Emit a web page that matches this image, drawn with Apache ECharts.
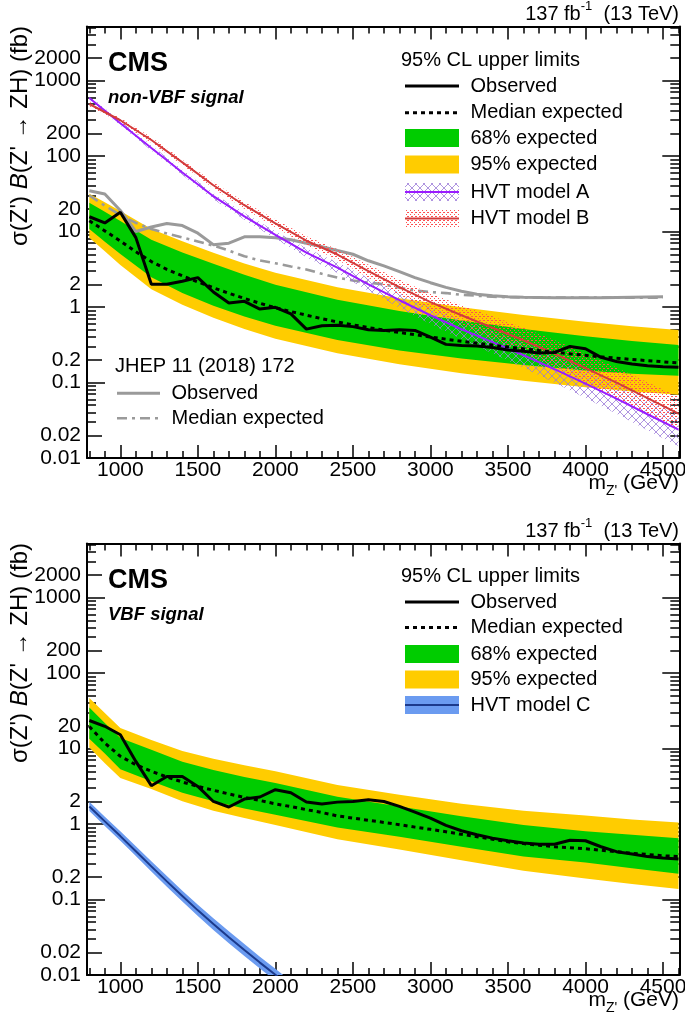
<!DOCTYPE html>
<html><head><meta charset="utf-8">
<script src="https://cdn.jsdelivr.net/npm/echarts@6/dist/echarts.min.js"></script>
<style>html,body{margin:0;padding:0;background:#fff}#c{width:685px;height:1029px}</style>
</head><body><div id="c"></div>
<script>
// ---------------- data ----------------
const mass = [800,900,1000,1100,1200,1300,1400,1500,1600,1700,1800,1900,2000,2100,2200,2300,2400,2500,2600,2700,2800,2900,3000,3100,3200,3300,3400,3500,3600,3700,3800,3900,4000,4100,4200,4300,4400,4500,4600];
const bandMass = [800,900,1000,1200,1400,1600,1800,2000,2400,2800,3200,3600,4000,4300,4600];
const hvtMass = [800,1000,1200,1400,1600,1800,2000,2200,2400,2600,2800,3000,3200,3400,3600,3800,4000,4200,4400,4600];
const oldMass = [800,900,1000,1100,1200,1300,1400,1500,1600,1700,1800,1900,2000,2100,2200,2300,2400,2500,2600,2700,2800,2900,3000,3100,3200,3300,3400,3500,3600,3700,3800,3900,4000,4100,4200,4300,4400,4500];
const hvtCMass = [800,900,1000,1100,1200,1300,1400,1500,1600,1700,1800,1900,2000,2100,2200];

// non-VBF panel
const obsTop = [15.7,13.0,18.0,8.3,2.0,2.0,2.2,2.45,1.58,1.13,1.19,0.94,0.99,0.81,0.51,0.565,0.575,0.55,0.50,0.49,0.50,0.49,0.40,0.32,0.31,0.305,0.29,0.27,0.26,0.246,0.25,0.30,0.28,0.215,0.19,0.176,0.167,0.162,0.159];
const expTop = [13.9,10.2,7.5,5.4,4.0,3.15,2.6,2.15,1.8,1.52,1.3,1.12,0.98,0.87,0.78,0.70,0.635,0.58,0.535,0.495,0.46,0.43,0.40,0.375,0.352,0.332,0.313,0.296,0.28,0.265,0.252,0.24,0.229,0.219,0.21,0.202,0.195,0.188,0.182];
const up95Top = [31.7,24.4,18.75,10.8,7.41,5.24,3.78,2.85,1.83,1.31,0.993,0.784,0.637,0.558,0.498];
const up68Top = [24.0,18.3,13.8,7.8,5.28,3.74,2.67,1.98,1.25,0.888,0.662,0.512,0.41,0.356,0.315];
const dn68Top = [10.8,7.34,5.05,2.48,1.53,1.04,0.75,0.565,0.366,0.265,0.208,0.171,0.144,0.131,0.1225];
const dn95Top = [8.3,5.5,3.6,1.72,1.07,0.72,0.51,0.38,0.244,0.175,0.133,0.1056,0.0863,0.0762,0.0686];
const oldObs = [34.7,31.4,19,10.0,11.5,12.8,12.0,9.5,6.7,7.0,8.5,8.5,8.3,7.8,7.0,6.3,5.6,5.0,4.1,3.5,2.95,2.45,2.1,1.82,1.62,1.48,1.41,1.37,1.35,1.34,1.33,1.33,1.33,1.33,1.34,1.35,1.36,1.37];
const oldExp = [30,22,16.5,13,10.8,9.4,8.35,7.4,6.5,5.6,4.7,4.15,3.8,3.45,3.15,2.75,2.45,2.25,2.1,2.0,1.8,1.65,1.58,1.53,1.45,1.41,1.37,1.35,1.34,1.33,1.33,1.33,1.33,1.33,1.33,1.33,1.33,1.33];
const hvtA = [586,272,128,60.6,29.4,15.9,9.02,5.24,3.33,2.00,1.23,0.778,0.508,0.342,0.230,0.150,0.0964,0.061,0.038,0.0237];
const hvtAHi = [628,292,139,65.7,32.2,17.6,10.1,6.02,3.91,2.43,1.55,1.01,0.685,0.483,0.336,0.227,0.149,0.0967,0.0616,0.0393];
const hvtALo = [547,254,118,55.9,26.8,14.3,8.04,4.56,2.83,1.64,0.977,0.597,0.377,0.242,0.157,0.099,0.0622,0.0385,0.0234,0.0143];
const hvtB = [489,298,163,82.3,41.0,22.3,12.8,7.55,4.96,2.98,1.83,1.16,0.778,0.532,0.363,0.241,0.155,0.0994,0.062,0.0386];
const hvtBHi = [524,319,177,89.2,44.9,24.7,14.4,8.67,5.83,3.62,2.30,1.51,1.05,0.752,0.531,0.365,0.240,0.158,0.1006,0.0641];
const hvtBLo = [456,278,150,75.9,37.4,20.1,11.4,6.58,4.22,2.45,1.45,0.89,0.577,0.377,0.248,0.159,0.100,0.0627,0.0382,0.0233];

// VBF panel
const obsBot = [23.5,19.7,15.2,6.75,3.22,4.27,4.27,3.15,1.99,1.68,2.14,2.28,2.85,2.6,1.96,1.84,1.95,1.99,2.1,1.99,1.71,1.44,1.2,0.96,0.815,0.72,0.65,0.6,0.56,0.54,0.54,0.61,0.6,0.5,0.43,0.40,0.37,0.355,0.344];
const expBot = [19.6,11.8,7.9,6.1,5.0,4.2,3.6,3.15,2.8,2.5,2.25,2.05,1.85,1.7,1.55,1.42,1.28,1.2,1.12,1.05,0.98,0.91,0.85,0.79,0.73,0.68,0.63,0.58,0.55,0.525,0.5,0.485,0.47,0.45,0.43,0.41,0.395,0.38,0.37];
const up95Bot = [46.7,29.5,18.7,13,9.3,7.3,6.0,5.0,3.3,2.45,1.85,1.5,1.3,1.15,1.05];
const up68Bot = [35,21.8,13.8,9.6,6.7,5.2,4.2,3.5,2.3,1.7,1.27,0.97,0.8,0.72,0.65];
const dn68Bot = [13.5,8.6,5.3,3.7,2.6,2.0,1.6,1.33,0.9,0.68,0.5,0.37,0.31,0.26,0.22];
const dn95Bot = [10.3,6.4,4.06,2.9,2.0,1.5,1.2,0.97,0.63,0.46,0.33,0.24,0.19,0.16,0.138];
const hvtC = [1.71,1.084,0.692,0.436,0.275,0.174,0.111,0.0718,0.0473,0.0316,0.0214,0.0146,0.01005,0.0069,0.0048];
const hvtCHi = [1.97,1.25,0.80,0.506,0.322,0.205,0.131,0.0855,0.0566,0.0379,0.0257,0.0175,0.0121,0.0083,0.0058];
const hvtCLo = [1.49,0.94,0.60,0.376,0.235,0.148,0.0941,0.0603,0.0395,0.0263,0.0178,0.0122,0.0084,0.0058,0.0040];

// axes
const xLabelVals = [1000,1500,2000,2500,3000,3500,4000,4500];
const yLabelVals = [0.01,0.02,0.1,0.2,1,2,10,20,100,200,1000,2000];
const yLabelText = ['0.01','0.02','0.1','0.2','1','2','10','20','100','200','1000','2000'];
const X_MIN = 785, X_MAX = 4605, Y_MIN = 0.01, Y_MAX = 5200;

// ---------------- styling ----------------
const FONT = '"Liberation Sans", Arial, Helvetica, sans-serif';
const C_GREEN = '#00cc00', C_YELLOW = '#ffcc00', C_GRAY = '#9a9a9a';
const C_PURPLE = '#9a1cff', C_RED = '#d23c3c', C_BLUE = '#6b9bf0', C_NAVY = '#1c3a8c';

function hatchPattern() {
  const c = document.createElement('canvas'); c.width = 8; c.height = 8;
  const g = c.getContext('2d'); g.strokeStyle = '#9a7ad8'; g.lineWidth = 0.8;
  g.beginPath(); g.moveTo(0,0); g.lineTo(8,8); g.moveTo(8,0); g.lineTo(0,8); g.stroke();
  return {image: c, repeat: 'repeat'};
}
function dotPattern() {
  const c = document.createElement('canvas'); c.width = 4; c.height = 4;
  const g = c.getContext('2d'); g.fillStyle = '#ff5050';
  g.fillRect(0,0,1,1); g.fillRect(2,2,1,1); g.fillRect(3,0,1,1);
  return {image: c, repeat: 'repeat'};
}
const PAT_A = hatchPattern(), PAT_B = dotPattern();

const xMinor = []; for (let m = 800; m <= 4600; m += 100) if (m % 500) xMinor.push(m);
const yDec = [], yTwo = [], yOther = [], yAllMinor = [];
for (let n = -2; n <= 3; n++) for (let k = 1; k <= 9; k++) {
  const v = Number((k * Math.pow(10, n)).toPrecision(3));
  if (v > Y_MAX) continue;
  if (k === 1) yDec.push(v); else { yAllMinor.push(v); if (k === 2) yTwo.push(v); else yOther.push(v); }
}

const tickLine = {color:'#000', width:1.5};
function xAxes(g) {
  const c = {type:'value', gridIndex:g, min:X_MIN, max:X_MAX, splitLine:{show:false}, axisPointer:{show:false}};
  return [
    {...c, position:'bottom', axisLine:{show:true, lineStyle:{color:'#000', width:2}},
      axisTick:{show:true, inside:true, length:13, customValues:xLabelVals, lineStyle:tickLine},
      axisLabel:{show:true, customValues:xLabelVals, color:'#000', fontSize:21, fontFamily:FONT, margin:2, formatter: v => String(Math.round(v))}},
    {...c, position:'bottom', axisLine:{show:false}, axisTick:{show:true, inside:true, length:7, customValues:xMinor, lineStyle:tickLine}, axisLabel:{show:false}},
    {...c, position:'top', axisLine:{show:true, lineStyle:{color:'#000', width:2}}, axisTick:{show:true, inside:true, length:13, customValues:xLabelVals, lineStyle:tickLine}, axisLabel:{show:false}},
    {...c, position:'top', axisLine:{show:false}, axisTick:{show:true, inside:true, length:7, customValues:xMinor, lineStyle:tickLine}, axisLabel:{show:false}}
  ];
}
function yAxes(g) {
  const c = {type:'log', logBase:10, gridIndex:g, min:Y_MIN, max:Y_MAX, splitLine:{show:false}, axisPointer:{show:false}};
  return [
    {...c, position:'left', axisLine:{show:true, lineStyle:{color:'#000', width:2}},
      axisTick:{show:true, inside:true, length:18, customValues:yDec, lineStyle:tickLine},
      axisLabel:{show:true, customValues:yLabelVals, color:'#000', fontSize:21, fontFamily:FONT, margin:6,
        formatter: v => { for (let i = 0; i < yLabelVals.length; i++) if (Math.abs(v / yLabelVals[i] - 1) < 1e-6) return yLabelText[i]; return ''; }}},
    {...c, position:'left', axisLine:{show:false}, axisTick:{show:true, inside:true, length:15, customValues:yTwo, lineStyle:tickLine}, axisLabel:{show:false}},
    {...c, position:'left', axisLine:{show:false}, axisTick:{show:true, inside:true, length:9, customValues:yOther, lineStyle:tickLine}, axisLabel:{show:false}},
    {...c, position:'right', axisLine:{show:true, lineStyle:{color:'#000', width:2}}, axisTick:{show:true, inside:true, length:17, customValues:yDec, lineStyle:tickLine}, axisLabel:{show:false}},
    {...c, position:'right', axisLine:{show:false}, axisTick:{show:true, inside:true, length:9, customValues:yAllMinor, lineStyle:tickLine}, axisLabel:{show:false}}
  ];
}

function pairs(xs, ys) { return xs.map((x, i) => [x, ys[i]]); }
function band(gi, xs, lo, hi, fill, z) {
  return {type:'custom', xAxisIndex:gi*4, yAxisIndex:gi*5, clip:true, silent:true, z:z,
    data:[[xs[0], lo[0]]],
    renderItem: (params, api) => {
      const pts = [];
      for (let i = 0; i < xs.length; i++) pts.push(api.coord([xs[i], hi[i]]));
      for (let i = xs.length - 1; i >= 0; i--) pts.push(api.coord([xs[i], lo[i]]));
      return {type:'polygon', shape:{points:pts}, style:{fill:fill, stroke:null}};
    }};
}
function line(gi, xs, ys, color, width, type, z) {
  return {type:'line', xAxisIndex:gi*4, yAxisIndex:gi*5, data:pairs(xs, ys), showSymbol:false, symbol:'none',
    clip:true, silent:true, z:z, lineStyle:{color:color, width:width, type:type || 'solid', cap:'butt'}};
}

const series = [
  band(0, bandMass, dn95Top, up95Top, C_YELLOW, 1),
  band(0, bandMass, dn68Top, up68Top, C_GREEN, 2),
  line(0, oldMass, oldExp, C_GRAY, 2.6, [10,5,3,5], 3),
  line(0, oldMass, oldObs, C_GRAY, 3, 'solid', 3),
  band(0, hvtMass, hvtALo, hvtAHi, PAT_A, 4),
  band(0, hvtMass, hvtBLo, hvtBHi, PAT_B, 4),
  line(0, hvtMass, hvtA, C_PURPLE, 2, 'solid', 5),
  line(0, hvtMass, hvtB, C_RED, 2, 'solid', 5),
  line(0, mass, expTop, '#000', 3, [4,4], 6),
  line(0, mass, obsTop, '#000', 3, 'solid', 7),

  band(1, bandMass, dn95Bot, up95Bot, C_YELLOW, 1),
  band(1, bandMass, dn68Bot, up68Bot, C_GREEN, 2),
  band(1, hvtCMass, hvtCLo, hvtCHi, C_BLUE, 4),
  line(1, hvtCMass, hvtC, C_NAVY, 2, 'solid', 5),
  line(1, mass, expBot, '#000', 3, [4,4], 6),
  line(1, mass, obsBot, '#000', 3, 'solid', 7)
];

// ---------------- decorations (text / legend) ----------------
const G = [];
function txt(x, y, text, size, opt) {
  G.push({type:'text', x:x, y:y, silent:true, z:100, rotation:(opt && opt.rot) || 0,
    style:Object.assign({text:text, fontSize:size, fontFamily:FONT, fill:'#000', align:'left', verticalAlign:'middle'}, (opt && opt.style) || {})});
}
function seg(x1, y1, x2, y2, color, w, dash) {
  G.push({type:'line', silent:true, z:100, shape:{x1:x1, y1:y1, x2:x2, y2:y2}, style:{stroke:color, lineWidth:w, lineDash:dash || null}});
}
function box(x, y, w, h, fill) {
  G.push({type:'rect', silent:true, z:100, shape:{x:x, y:y, width:w, height:h}, style:{fill:fill}});
}
function panelDeco(dy, isTop) {
  txt(679, 14 + dy, "137 fb{sup|-1}  (13 TeV)", 20, {style:{align:'right', rich:{sup:{fontSize:13, fontFamily:FONT, verticalAlign:'top', lineHeight:28}}}});
  txt(108, 64 + dy, 'CMS', 27, {style:{fontWeight:'bold'}});
  txt(108, 98 + dy, isTop ? 'non-VBF signal' : 'VBF signal', 18.5, {style:{fontWeight:'bold', fontStyle:'italic'}});
  txt(20, 26 + dy, "σ(Z') {it|B}(Z' → ZH) (fb)", 24, {rot:Math.PI/2, style:{align:'right', rich:{it:{fontStyle:'italic', fontSize:24, fontFamily:FONT}}}});
  txt(679, 483 + dy, "m{sub|Z'} (GeV)", 21, {style:{align:'right', rich:{sub:{fontSize:14, fontFamily:FONT, verticalAlign:'bottom', lineHeight:30}}}});
  // legend
  const rows = isTop ? [86, 112.7, 138, 164.5, 192, 218.5] : [85, 110.5, 137, 162.5, 188];
  const X1 = 405, X2 = 459, TX = 470.5;
  txt(401, (isTop ? 60 : 59.7) + dy, '95% CL upper limits', 20);
  seg(X1, rows[0] + dy, X2, rows[0] + dy, '#000', 3);
  txt(TX, rows[0] + dy, 'Observed', 20);
  seg(X1, rows[1] + dy, X2, rows[1] + dy, '#000', 3, [4,4]);
  txt(TX, rows[1] + dy, 'Median expected', 20);
  box(X1, rows[2] - 9 + dy, X2 - X1, 18, C_GREEN);
  txt(TX, rows[2] + dy, '68% expected', 20);
  box(X1, rows[3] - 9 + dy, X2 - X1, 18, C_YELLOW);
  txt(TX, rows[3] + dy, '95% expected', 20);
  if (isTop) {
    box(X1, rows[4] - 9 + dy, X2 - X1, 18, PAT_A);
    seg(X1, rows[4] + dy, X2, rows[4] + dy, C_PURPLE, 2);
    txt(TX, rows[4] + dy, 'HVT model A', 20);
    box(X1, rows[5] - 9 + dy, X2 - X1, 18, PAT_B);
    seg(X1, rows[5] + dy, X2, rows[5] + dy, C_RED, 2);
    txt(TX, rows[5] + dy, 'HVT model B', 20);
    txt(115, 366, 'JHEP 11 (2018) 172', 20);
    seg(117, 393.3, 160, 393.3, C_GRAY, 3);
    txt(171.5, 393.3, 'Observed', 20);
    seg(117, 418.3, 160, 418.3, C_GRAY, 2.6, [10,5,3,5]);
    txt(171.5, 418.3, 'Median expected', 20);
  } else {
    box(X1, rows[4] - 9 + dy, X2 - X1, 18, C_BLUE);
    seg(X1, rows[4] + dy, X2, rows[4] + dy, C_NAVY, 2);
    txt(TX, rows[4] + dy, 'HVT model C', 20);
  }
}
panelDeco(0, true);
panelDeco(517, false);

const chart = echarts.init(document.getElementById('c'), null, {renderer:'canvas'});
chart.setOption({
  animation:false,
  backgroundColor:'#fff',
  textStyle:{fontFamily:FONT},
  grid:[
    {left:87, top:26.5, width:592.3, height:431.5, show:false, containLabel:false, outerBoundsMode:'none'},
    {left:87, top:543.5, width:592.3, height:431.5, show:false, containLabel:false, outerBoundsMode:'none'}
  ],
  xAxis:[...xAxes(0), ...xAxes(1)],
  yAxis:[...yAxes(0), ...yAxes(1)],
  series:series,
  graphic:G
});
</script></body></html>
